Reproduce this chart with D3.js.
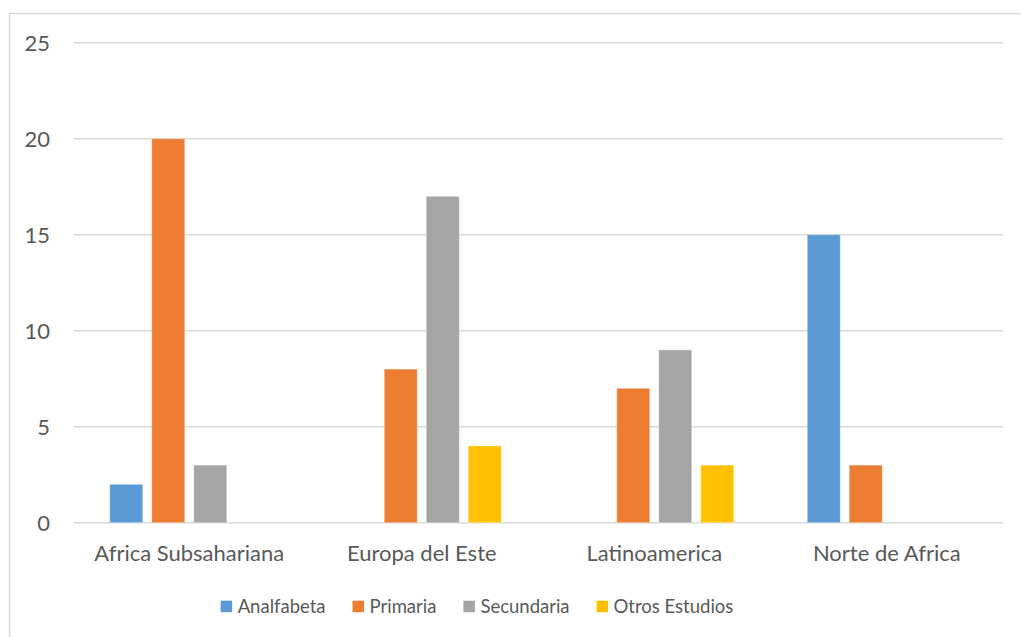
<!DOCTYPE html>
<html>
<head>
<meta charset="utf-8">
<script src="https://cdn.jsdelivr.net/npm/d3@7/dist/d3.min.js"></script>
<style>
  html, body { margin: 0; padding: 0; background: #fff; }
  svg { display: block; }
  text { font-family: Lato, "Open Sans", sans-serif; fill: #595959; }
</style>
</head>
<body>
<svg id="chart" width="1021" height="637"></svg>
<script>
// Regions of origin (x axis groups)
const categories = ["Africa Subsahariana", "Europa del Este", "Latinoamerica", "Norte de Africa"];

// Education level series
const seriesNames = ["Analfabeta", "Primaria", "Secundaria", "Otros Estudios"];
const seriesColors = ["#5B9BD5", "#ED7D31", "#A5A5A5", "#FFC000"];

// Counts per region, one array per series (same order as categories)
const analfabeta = [2, 0, 0, 15];
const primaria = [20, 8, 7, 3];
const secundaria = [3, 17, 9, 0];
const otrosEstudios = [0, 4, 3, 0];

// Y axis ticks
const yTicks = [0, 5, 10, 15, 20, 25];

const seriesValues = [analfabeta, primaria, secundaria, otrosEstudios];

const svg = d3.select("#chart");

// Chart frame
svg.append("rect")
  .attr("x", 9.5).attr("y", 13.5)
  .attr("width", 1200).attr("height", 800)
  .attr("fill", "none")
  .attr("stroke", "#d9d9d9")
  .attr("stroke-width", 1.5);

const plot = { left: 73, right: 1003, top: 42.7, bottom: 522.7 };

const x = d3.scaleBand()
  .domain(categories)
  .range([plot.left, plot.right])
  .paddingInner(0)
  .paddingOuter(0);

const xInner = d3.scaleBand()
  .domain(seriesNames)
  .range([0, x.bandwidth()])
  .paddingInner(0.214)
  .paddingOuter(0.875);

const y = d3.scaleLinear()
  .domain([0, 25])
  .range([plot.bottom, plot.top]);

// Horizontal gridlines
svg.append("g")
  .selectAll("line")
  .data(yTicks)
  .join("line")
  .attr("x1", plot.left).attr("x2", plot.right)
  .attr("y1", d => y(d)).attr("y2", d => y(d))
  .attr("stroke", "#d9d9d9")
  .attr("stroke-width", 1.5);

// Y axis labels
const yAxis = d3.axisLeft(y).tickValues(yTicks).tickSize(0).tickPadding(0);
const yG = svg.append("g")
  .attr("transform", "translate(50,0)")
  .call(yAxis);
yG.select(".domain").remove();
yG.selectAll("text")
  .attr("font-family", "Lato, 'Open Sans', sans-serif")
  .attr("font-size", 22)
  .attr("fill", "#595959")
  .attr("dy", "0.36em");

// Bars
const rows = categories.map((c, i) => ({
  category: c,
  values: seriesNames.map((s, j) => ({ series: s, value: seriesValues[j][i], color: seriesColors[j] }))
}));

const groups = svg.append("g")
  .selectAll("g")
  .data(rows)
  .join("g")
  .attr("transform", d => `translate(${x(d.category)},0)`);

groups.selectAll("rect")
  .data(d => d.values.filter(v => v.value > 0))
  .join("rect")
  .attr("x", d => xInner(d.series))
  .attr("width", xInner.bandwidth())
  .attr("y", d => y(d.value))
  .attr("height", d => y(0) - y(d.value))
  .attr("fill", d => d.color)
  .attr("stroke", "#ffffff")
  .attr("stroke-opacity", 0.35)
  .attr("stroke-width", 1);

// X axis labels
const xAxis = d3.axisBottom(x).tickSize(0).tickPadding(0);
const xG = svg.append("g")
  .attr("transform", "translate(0,561)")
  .call(xAxis);
xG.select(".domain").remove();
xG.selectAll("text")
  .attr("font-family", "Lato, 'Open Sans', sans-serif")
  .attr("font-size", 22)
  .attr("fill", "#595959")
  .attr("dy", 0)
  .attr("y", 0);

// Legend
const legend = svg.append("g").attr("transform", "translate(0,613)");
const items = legend.selectAll("g")
  .data(seriesNames)
  .join("g");
items.append("rect")
  .attr("width", 11.5).attr("height", 11.5)
  .attr("y", -12.3)
  .attr("fill", (d, i) => seriesColors[i]);
items.append("text")
  .attr("x", 17)
  .attr("y", 0)
  .attr("font-size", 18.5)
  .text(d => d);

const gap = 27;
let widths = [];
items.each(function() {
  widths.push(17 + d3.select(this).select("text").node().getComputedTextLength());
});
const total = d3.sum(widths) + gap * (widths.length - 1);
let cursor = 477 - total / 2;
items.attr("transform", (d, i) => {
  const t = `translate(${cursor},0)`;
  cursor += widths[i] + gap;
  return t;
});
</script>
</body>
</html>
